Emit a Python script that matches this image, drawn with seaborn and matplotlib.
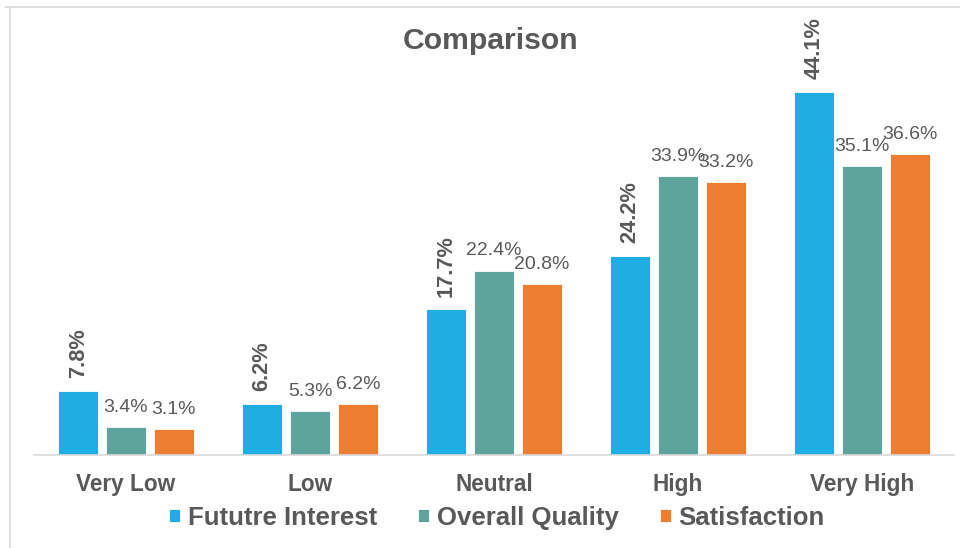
import matplotlib
matplotlib.use("Agg")
import matplotlib.pyplot as plt
from matplotlib.lines import Line2D
import pandas as pd
import seaborn as sns

categories = ["Very Low", "Low", "Neutral", "High", "Very High"]
series = ["Fututre Interest", "Overall Quality", "Satisfaction"]
future_interest = [7.8, 6.2, 17.7, 24.2, 44.1]
overall_quality = [3.4, 5.3, 22.4, 33.9, 35.1]
satisfaction = [3.1, 6.2, 20.8, 33.2, 36.6]
colors = ["#1FADE4", "#5FA39D", "#ED7D31"]

df = pd.DataFrame({
    "category": categories * 3,
    "series": [s for s in series for _ in categories],
    "value": future_interest + overall_quality + satisfaction,
})

sns.set_theme(style="white")
plt.rcParams["font.family"] = ["Liberation Sans", "DejaVu Sans"]
grey = "#595959"

fig = plt.figure(figsize=(9.6, 5.48), dpi=100)
ax = fig.add_axes([34 / 960, 93 / 548, 920 / 960, 405 / 548])

sns.barplot(data=df, x="category", y="value", hue="series", order=categories,
            hue_order=series, palette=colors, width=0.78, gap=0.17,
            saturation=1, edgecolor="white", linewidth=0.6, ax=ax)

ax.set_ylim(0, 49.2)
ax.set_xlim(-0.5, 4.5)
ax.set(xlabel="", ylabel="", yticks=[])
for side in ["top", "right", "left"]:
    ax.spines[side].set_visible(False)
ax.spines["bottom"].set_color("#D9D9D9")
ax.spines["bottom"].set_linewidth(1.2)
ax.tick_params(axis="x", length=0, pad=13, labelsize=16.3, labelcolor=grey)
for t in ax.get_xticklabels():
    t.set_fontweight("bold")

for i, cont in enumerate(ax.containers):
    labels = [f"{v:.1f}%" for v in cont.datavalues]
    if i == 0:
        ax.bar_label(cont, labels=labels, rotation=90, padding=9,
                     fontsize=15.7, fontweight="bold", color=grey)
    else:
        ax.bar_label(cont, labels=labels, padding=8, fontsize=14, color=grey)

handles, labels = ax.get_legend_handles_labels()
ax.legend_.remove()
fig.legend(handles, labels, loc="center", bbox_to_anchor=(497 / 960, 1 - 518 / 548),
           ncol=3, frameon=False, handlelength=0.42, handleheight=0.42,
           handletextpad=0.3, columnspacing=1.6,
           prop={"size": 18.5, "weight": "bold"}, labelcolor=grey)

fig.text(491 / 960, 1 - 41 / 548, "Comparison", ha="center", va="center",
         fontsize=21.7, fontweight="bold", color=grey)

fig.add_artist(Line2D([5 / 960, 1], [1 - 7 / 548, 1 - 7 / 548], color="#D9D9D9", lw=1.2))
fig.add_artist(Line2D([10 / 960, 10 / 960], [0, 1 - 7 / 548], color="#D9D9D9", lw=1.2))

fig.savefig("out.png", dpi=100)
